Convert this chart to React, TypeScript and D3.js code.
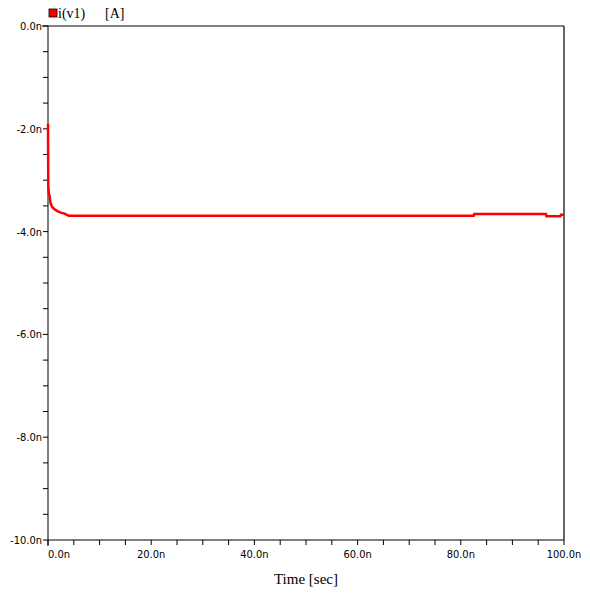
import * as d3 from "d3";

const times = [0, 0.05, 0.15, 0.3, 0.5, 0.8, 1.2, 1.8, 2.5, 3.2, 4, 10, 30, 50, 70, 82.5, 82.6, 96.5, 96.6, 99.3, 99.4, 100];
const current = [-1.9, -3.1, -3.25, -3.3, -3.45, -3.52, -3.56, -3.6, -3.63, -3.65, -3.69, -3.69, -3.69, -3.69, -3.69, -3.69, -3.66, -3.66, -3.7, -3.7, -3.67, -3.67];
const xTicks = [0, 20, 40, 60, 80, 100];
const yTicks = [0, -2, -4, -6, -8, -10];

export default function App() {
  const width = 590, height = 593;
  const left = 48, right = 564, top = 26, bottom = 540;
  const x = d3.scaleLinear([0, 100], [left, right]);
  const y = d3.scaleLinear([-10, 0], [bottom, top]);
  const line = d3.line<number>((_, i) => x(times[i]), (d) => y(d)).curve(d3.curveLinear);
  const minorX = d3.range(0, 100.01, 5);
  const minorY = d3.range(-10, 0.01, 0.5);
  const tickFont = { fontFamily: "'Liberation Sans Narrow', 'DejaVu Sans Condensed', sans-serif", fontSize: 11 };
  return (
    <svg width={width} height={height} style={{ position: "absolute", left: 0, top: 0, background: "#fff" }}>
      <line x1={right} x2={right} y1={top} y2={bottom} stroke="#666" strokeWidth={2} />
      <line x1={left - 6} x2={right} y1={top} y2={top} stroke="#000" />
      <line x1={left} x2={right} y1={bottom} y2={bottom} stroke="#000" />
      <line x1={left} x2={left} y1={top} y2={bottom + 6} stroke="#000" />
      {minorX.map((t) => (
        <line key={"mx" + t} x1={x(t)} x2={x(t)} y1={bottom} y2={bottom + 5} stroke="#000" />
      ))}
      {minorY.map((t) => (
        <line key={"my" + t} x1={left - 5} x2={left} y1={y(t)} y2={y(t)} stroke="#000" />
      ))}
      {xTicks.map((t) => (
        <text key={"xt" + t} x={x(t)} y={bottom + 18} textAnchor={t === 100 ? "middle" : t === 0 ? "start" : "middle"} dx={t === 100 ? 0 : t === 0 ? 0 : 0} {...tickFont}>
          {t.toFixed(1)}n
        </text>
      ))}
      {yTicks.map((t) => (
        <text key={"yt" + t} x={left - 6} y={y(t) + 4} textAnchor="end" {...tickFont}>
          {t.toFixed(1)}n
        </text>
      ))}
      <path d={line(current) ?? ""} fill="none" stroke="#ff0000" strokeWidth={2.5} />
      <rect x={49} y={9} width={8} height={8} fill="#ff0000" stroke="#000" strokeWidth={0.8} />
      <text x={58} y={18} fontFamily="'Liberation Serif', serif" fontSize={14}>i(v1)</text>
      <text x={105} y={18} fontFamily="'Liberation Serif', serif" fontSize={14}>[A]</text>
      <text x={(left + right) / 2} y={bottom + 44} textAnchor="middle" fontFamily="'Liberation Serif', serif" fontSize={15}>
        Time [sec]
      </text>
    </svg>
  );
}
